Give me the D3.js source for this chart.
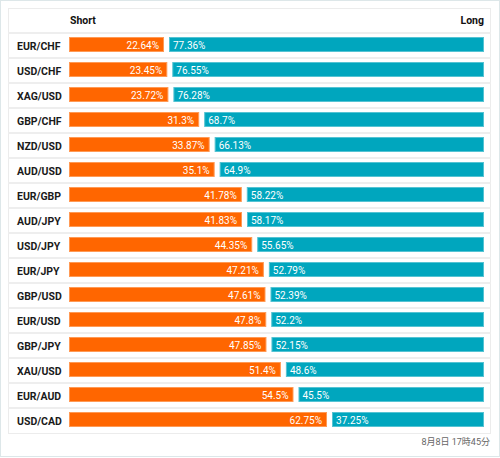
<!DOCTYPE html>
<html><head><meta charset="utf-8">
<script src="https://cdn.jsdelivr.net/npm/d3@7"></script>
<style>html,body{margin:0;padding:0;background:#fff;}svg{display:block;}</style>
</head><body>
<script>
const pairs = ["EUR/CHF","USD/CHF","XAG/USD","GBP/CHF","NZD/USD","AUD/USD","EUR/GBP","AUD/JPY","USD/JPY","EUR/JPY","GBP/USD","EUR/USD","GBP/JPY","XAU/USD","EUR/AUD","USD/CAD"];
const shortPct = ["22.64","23.45","23.72","31.3","33.87","35.1","41.78","41.83","44.35","47.21","47.61","47.8","47.85","51.4","54.5","62.75"];
const longPct = ["77.36","76.55","76.28","68.7","66.13","64.9","58.22","58.17","55.65","52.79","52.39","52.2","52.15","48.6","45.5","37.25"];
const headers = ["Short","Long"];
const footer = "8月8日 17時45分";

(function(){
const W = 500, H = 458;
const svg = d3.select("body").append("svg").attr("width", W).attr("height", H);
const font = "Roboto, 'Noto Sans CJK JP', sans-serif";

svg.append("rect").attr("x",0.5).attr("y",0.5).attr("width",W-1).attr("height",456)
  .attr("fill","#fff").attr("stroke","#dde7e9");

const tLeft = 8, tRight = 491, tTop = 8;
const y = d3.scaleBand().domain(pairs).range([33, 433]);
const x = d3.scaleLinear().domain([0,100]).range([0, 406.4]);
const barX0 = 69, barX1 = 484, gap = 5;

svg.append("rect").attr("x",tLeft+0.5).attr("y",tTop+0.5).attr("width",tRight-tLeft-1).attr("height",433-tTop)
  .attr("fill","none").attr("stroke","#ececec");

svg.selectAll("line.sep").data(pairs).enter().append("line")
  .attr("x1",tLeft).attr("x2",tRight)
  .attr("y1",d=>y(d)).attr("y2",d=>y(d))
  .attr("stroke","#eeeeee").attr("stroke-width",2);

svg.append("text").attr("x",70).attr("y",24).text(headers[0])
  .attr("font-family",font).attr("font-size",10.5).attr("font-weight","bold").attr("fill","#111");
svg.append("text").attr("x",484).attr("y",24).attr("text-anchor","end").text(headers[1])
  .attr("font-family",font).attr("font-size",10.5).attr("font-weight","bold").attr("fill","#111");

const rows = svg.selectAll("g.row").data(pairs.map((p,i)=>({p, s:+shortPct[i], l:+longPct[i], ss:shortPct[i], ls:longPct[i]})))
  .enter().append("g").attr("class","row").attr("transform",d=>`translate(0,${y(d.p)})`);

rows.append("text").attr("x",17).attr("y",16.5).text(d=>d.p)
  .attr("font-family",font).attr("font-size",10.5).attr("font-weight","bold").attr("fill","#1a1a1a");

const sEnd = d => barX0 + x(d.s) + 3;
rows.append("rect").attr("x",barX0+0.5).attr("y",4.5).attr("height",14)
  .attr("width",d=>sEnd(d)-barX0-1)
  .attr("fill","#ff6600").attr("stroke","#ff9a55").attr("stroke-width",1);
rows.append("rect").attr("x",d=>sEnd(d)+gap+0.5).attr("y",4.5).attr("height",14)
  .attr("width",d=>barX1-(sEnd(d)+gap)-1)
  .attr("fill","#00a6be").attr("stroke","#55c3d3").attr("stroke-width",1);

rows.append("text").attr("x",d=>sEnd(d)-5).attr("y",15.5).attr("text-anchor","end")
  .text(d=>d.ss+"%").attr("font-family",font).attr("font-size",10).attr("fill","#fff");
rows.append("text").attr("x",d=>sEnd(d)+gap+4).attr("y",15.5)
  .text(d=>d.ls+"%").attr("font-family",font).attr("font-size",10).attr("fill","#fff");

svg.append("text").attr("x",490).attr("y",445).attr("text-anchor","end").text(footer)
  .attr("font-family",font).attr("font-size",9).attr("fill","#666");
})();
</script>
</body></html>
